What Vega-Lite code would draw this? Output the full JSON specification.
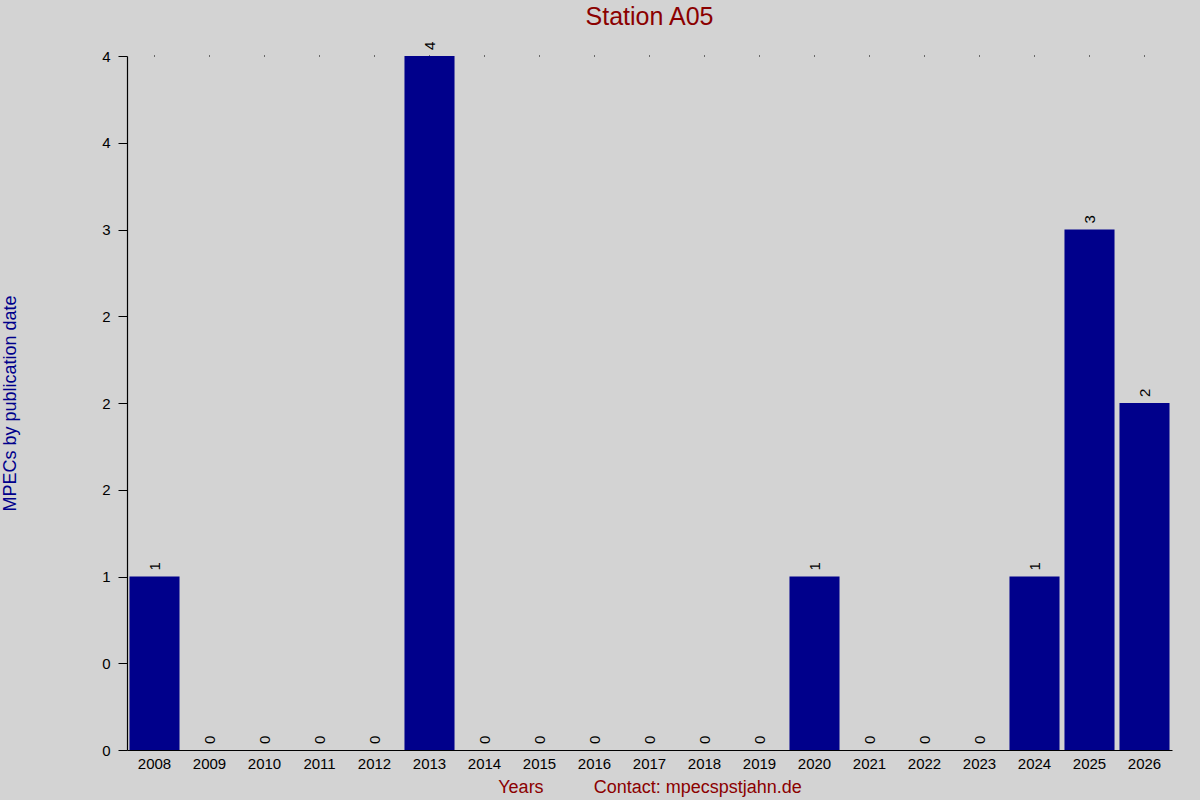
{
  "$schema": "https://vega.github.io/schema/vega-lite/v6.json",
  "width": 1045,
  "height": 694,
  "autosize": {"type": "none"},
  "padding": {"left": 127, "top": 56, "right": 28, "bottom": 50},
  "background": "#d3d3d3",
  "config": {
    "view": {"stroke": null},
    "font": "Liberation Sans"
  },
  "title": {
    "text": "Station A05",
    "color": "#8b0000",
    "fontSize": 25,
    "fontWeight": "normal",
    "anchor": "middle",
    "frame": "group",
    "baseline": "alphabetic",
    "offset": 2,
    "dy": 10
  },
  "data": {
    "values": [
      {"year": "2008", "mpecs": 1},
      {"year": "2009", "mpecs": 0},
      {"year": "2010", "mpecs": 0},
      {"year": "2011", "mpecs": 0},
      {"year": "2012", "mpecs": 0},
      {"year": "2013", "mpecs": 4},
      {"year": "2014", "mpecs": 0},
      {"year": "2015", "mpecs": 0},
      {"year": "2016", "mpecs": 0},
      {"year": "2017", "mpecs": 0},
      {"year": "2018", "mpecs": 0},
      {"year": "2019", "mpecs": 0},
      {"year": "2020", "mpecs": 1},
      {"year": "2021", "mpecs": 0},
      {"year": "2022", "mpecs": 0},
      {"year": "2023", "mpecs": 0},
      {"year": "2024", "mpecs": 1},
      {"year": "2025", "mpecs": 3},
      {"year": "2026", "mpecs": 2}
    ]
  },
  "encoding": {
    "x": {
      "field": "year",
      "type": "nominal",
      "scale": {"paddingInner": 0.09, "paddingOuter": 0.045},
      "axis": {
        "title": "Years\u00a0\u00a0\u00a0\u00a0\u00a0\u00a0\u00a0\u00a0\u00a0\u00a0Contact: mpecspstjahn.de",
        "titleColor": "#8b0000",
        "titleFontSize": 18,
        "titleFontWeight": "normal",
        "titleBaseline": "alphabetic",
        "titleY": 42,
        "labelAngle": 0,
        "labelFontSize": 15,
        "labelColor": "black",
        "labelPadding": 6,
        "ticks": false,
        "domainColor": "black",
        "domainWidth": 1.2
      }
    },
    "y": {
      "field": "mpecs",
      "type": "quantitative",
      "scale": {"domain": [0, 4], "nice": false},
      "axis": {
        "title": "MPECs by publication date",
        "titleColor": "#00008b",
        "titleFontSize": 18,
        "titleFontWeight": "normal",
        "titleAngle": 270,
        "titleBaseline": "middle",
        "titleAlign": "center",
        "titleX": -117,
        "titleY": 347,
        "values": [0, 0.5, 1, 1.5, 2, 2.5, 3, 3.5, 4],
        "labelExpr": "datum.value == 0.5 ? '0' : datum.value == 2.5 ? '2' : format(datum.value, '.0f')",
        "labelFontSize": 15,
        "labelColor": "black",
        "labelPadding": 8,
        "tickSize": 9,
        "tickColor": "black",
        "domainColor": "black",
        "domainWidth": 1.2,
        "grid": false
      }
    }
  },
  "layer": [
    {
      "mark": {"type": "point", "shape": "square", "size": 1, "filled": true, "color": "black", "opacity": 1},
      "encoding": {"y": {"datum": 4}}
    },
    {
      "mark": {"type": "bar", "color": "#00008b"}
    },
    {
      "mark": {"type": "text", "angle": 270, "align": "left", "baseline": "middle", "dx": 6, "fontSize": 15, "color": "black"},
      "encoding": {"text": {"field": "mpecs", "type": "quantitative"}}
    }
  ]
}
